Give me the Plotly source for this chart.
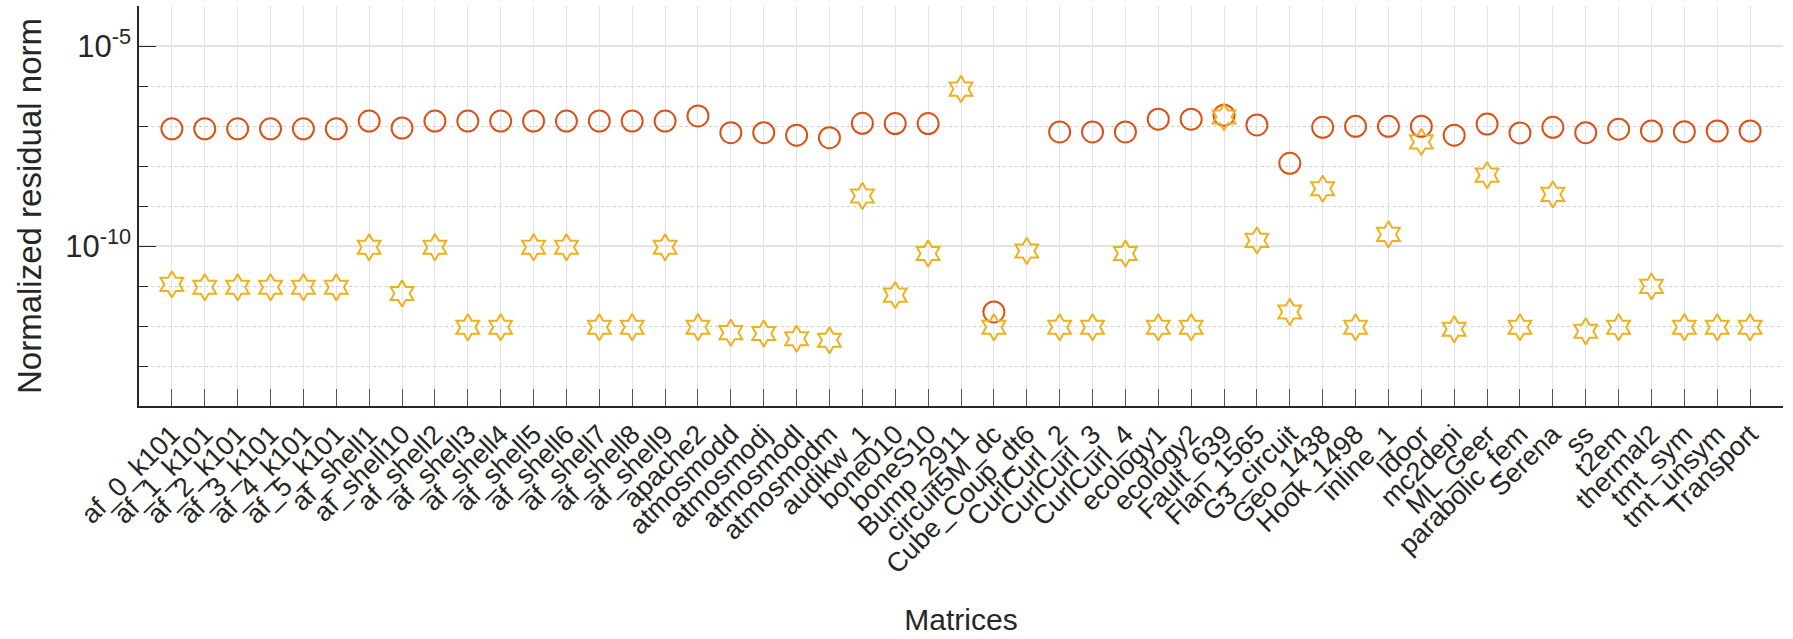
import plotly.graph_objects as go

matrices = ["af_0_k101", "af_1_k101", "af_2_k101", "af_3_k101", "af_4_k101", "af_5_k101",
            "af_shell1", "af_shell10", "af_shell2", "af_shell3", "af_shell4", "af_shell5",
            "af_shell6", "af_shell7", "af_shell8", "af_shell9", "apache2", "atmosmodd",
            "atmosmodj", "atmosmodl", "atmosmodm", "audikw_1", "bone010", "boneS10",
            "Bump_2911", "circuit5M_dc", "Cube_Coup_dt6", "CurlCurl_2", "CurlCurl_3",
            "CurlCurl_4", "ecology1", "ecology2", "Fault_639", "Flan_1565", "G3_circuit",
            "Geo_1438", "Hook_1498", "inline_1", "ldoor", "mc2depi", "ML_Geer",
            "parabolic_fem", "Serena", "ss", "t2em", "thermal2", "tmt_sym", "tmt_unsym",
            "Transport"]

# red circles
residual_a = [8.5e-8, 8.5e-8, 8.5e-8, 8.5e-8, 8.5e-8, 8.5e-8,
              1.33e-7, 8.9e-8, 1.33e-7, 1.33e-7, 1.33e-7, 1.33e-7,
              1.33e-7, 1.33e-7, 1.33e-7, 1.33e-7, 1.78e-7, 6.8e-8,
              6.8e-8, 5.9e-8, 5.1e-8, 1.17e-7, 1.15e-7, 1.15e-7,
              None, 2.24e-12, None, 7.1e-8, 7.1e-8,
              7.1e-8, 1.48e-7, 1.48e-7, 1.86e-7, 1.06e-7, 1.17e-8,
              9.3e-8, 9.8e-8, 9.8e-8, 9.8e-8, 5.9e-8, 1.12e-7,
              6.7e-8, 9.3e-8, 6.8e-8, 8.3e-8, 7.5e-8, 7.2e-8, 7.5e-8,
              7.5e-8]

# yellow hexagrams
residual_b = [1.1e-11, 9.3e-12, 9.3e-12, 9.3e-12, 9.3e-12, 9.3e-12,
              9.3e-11, 6.5e-12, 9.3e-11, 9.3e-13, 9.3e-13, 9.3e-11,
              9.3e-11, 9.3e-13, 9.3e-13, 9.3e-11, 9.3e-13, 6.8e-13,
              6.5e-13, 4.8e-13, 4.4e-13, 1.78e-9, 5.9e-12, 6.5e-11,
              8.4e-7, 9.3e-13, 7.5e-11, 9.3e-13, 9.3e-13,
              6.5e-11, 9.3e-13, 9.3e-13, 1.68e-7, 1.38e-10, 2.24e-12,
              2.7e-9, 9.3e-13, 1.95e-10, 4.0e-8, 8.3e-13, 5.9e-9,
              9.3e-13, 1.95e-9, 7.4e-13, 9.3e-13, 9.8e-12, 9.3e-13, 9.3e-13,
              9.3e-13]

y_major = [1e-10, 1e-5]
y_major_text = ["10<sup>-10</sup>", "10<sup>-5</sup>"]
y_minor = [1e-14, 1e-13, 1e-12, 1e-11, 1e-9, 1e-8, 1e-7, 1e-6, 1e-4]

FONT = "Liberation Sans, Arial, Helvetica, sans-serif"
TXT = "#262626"

fig = go.Figure()
fig.add_trace(go.Scatter(
    x=matrices, y=residual_a, mode="markers",
    marker=dict(symbol="circle-open", size=21, color="#D95319",
                line=dict(width=2, color="#D95319")),
    showlegend=False))
fig.add_trace(go.Scatter(
    x=matrices, y=residual_b, mode="markers",
    marker=dict(symbol="hexagram-open", size=20, color="#EDB120",
                line=dict(width=2, color="#EDB120")),
    showlegend=False))

fig.update_layout(
    width=1793, height=639,
    margin=dict(l=139, r=10, t=6, b=233),
    paper_bgcolor="white", plot_bgcolor="white",
    font=dict(family=FONT, color=TXT, size=27),
    xaxis=dict(
        type="category", categoryorder="array", categoryarray=matrices,
        range=[-1, len(matrices)],
        tickangle=-45, tickfont=dict(size=27, color=TXT),
        ticks="inside", ticklen=17, tickwidth=1, tickcolor="#555555",
        showgrid=True, gridcolor="#e3e3e3", gridwidth=1,
        showline=True, linecolor=TXT, linewidth=1.5,
        zeroline=False,
        title=dict(text="Matrices", font=dict(size=30, color=TXT), standoff=30),
    ),
    yaxis=dict(
        type="log", range=[-14, -4],
        tickmode="array", tickvals=y_major, ticktext=y_major_text,
        tickfont=dict(size=31, color=TXT),
        ticks="inside", ticklen=17, tickwidth=1, tickcolor=TXT,
        showgrid=True, gridcolor="#e3e3e3", gridwidth=1.5,
        minor=dict(tickmode="array", tickvals=y_minor, ticks="inside", ticklen=9,
                   tickcolor=TXT, showgrid=True, griddash="dot",
                   gridcolor="#cfcfcf", gridwidth=1),
        showline=True, linecolor=TXT, linewidth=1.5,
        zeroline=False,
        title=dict(text="Normalized residual norm", font=dict(size=33, color=TXT), standoff=14),
    ),
)

fig.write_html("out.html")
